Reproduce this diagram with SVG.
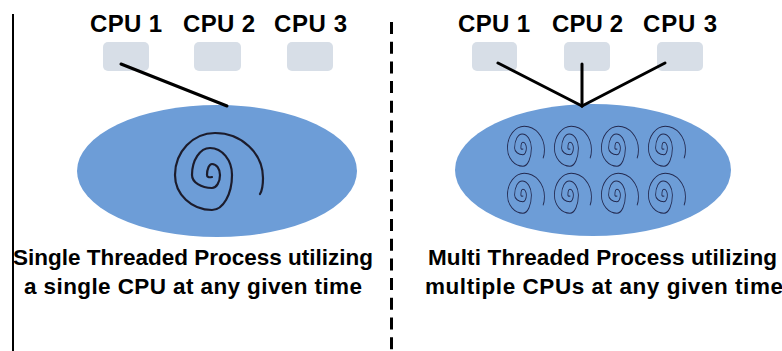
<svg xmlns="http://www.w3.org/2000/svg" xmlns:xlink="http://www.w3.org/1999/xlink" width="782" height="351" viewBox="0 0 782 351">
<style>
.lbl{font-family:"Liberation Sans",Arial,sans-serif;font-weight:bold;font-size:24px;fill:#000}
.cap{font-family:"Liberation Sans",Arial,sans-serif;font-weight:bold;font-size:22.5px;fill:#000}
.cpu{fill:#d7dee7}
.proc{fill:#6d9dd7}
.conn{stroke:#000;stroke-width:3;fill:none;stroke-linecap:round}
.sp{fill:none;stroke:#1c1c2c;stroke-width:2.2;stroke-linecap:round}
.ssp{fill:none;stroke:#23294f;stroke-width:2;stroke-linecap:round;vector-effect:non-scaling-stroke}
</style>
<defs>
<path id="spiral" d="M 212 177 Q 207 178 207 175 A 5 11 0 0 1 212 164 A 8 11 0 0 1 220 175 A 8 13 0 0 1 212 188 A 20 13 0 0 1 192 175 A 18 27 0 0 1 210 148 A 22 27 0 0 1 232 175 A 20 35 0 0 1 212 210 A 37 35 0 0 1 175 175 A 40 42 0 0 1 215 133 A 48 45 0 0 1 263 178 Q 263 189 260 194"/>
</defs>
<rect width="782" height="351" fill="#fff"/>
<g id="dividers">
<line x1="13" y1="14" x2="13" y2="351" stroke="#000" stroke-width="2"/>
<line x1="391.5" y1="22" x2="391.5" y2="351" stroke="#000" stroke-width="3" stroke-dasharray="12 7.7"/>
</g>
<g id="left-process">
<ellipse class="proc" cx="217" cy="171" rx="140" ry="66"/>
<use href="#spiral" class="sp"/>
</g>
<g id="right-process">
<ellipse class="proc" cx="593" cy="170" rx="138" ry="66"/>
<g class="ssp">
<use href="#spiral" transform="translate(523,148) scale(0.42,0.52) translate(-212,-175)"/>
<use href="#spiral" transform="translate(570,148) scale(0.42,0.52) translate(-212,-175)"/>
<use href="#spiral" transform="translate(617,148) scale(0.42,0.52) translate(-212,-175)"/>
<use href="#spiral" transform="translate(664,148) scale(0.42,0.52) translate(-212,-175)"/>
<use href="#spiral" transform="translate(523,195) scale(0.42,0.52) translate(-212,-175)"/>
<use href="#spiral" transform="translate(570,195) scale(0.42,0.52) translate(-212,-175)"/>
<use href="#spiral" transform="translate(617,195) scale(0.42,0.52) translate(-212,-175)"/>
<use href="#spiral" transform="translate(664,195) scale(0.42,0.52) translate(-212,-175)"/>
</g>
</g>
<g id="left-cpu1"><rect class="cpu" x="103" y="42" width="46" height="29" rx="5"/><text class="lbl" x="90" y="32" textLength="72">CPU 1</text></g>
<g id="left-cpu2"><rect class="cpu" x="194" y="42" width="47" height="29" rx="5"/><text class="lbl" x="183" y="32" textLength="72">CPU 2</text></g>
<g id="left-cpu3"><rect class="cpu" x="287" y="42" width="46" height="29" rx="5"/><text class="lbl" x="274" y="32" textLength="73">CPU 3</text></g>
<g id="right-cpu1"><rect class="cpu" x="472" y="42" width="45" height="29" rx="5"/><text class="lbl" x="458" y="32" textLength="72">CPU 1</text></g>
<g id="right-cpu2"><rect class="cpu" x="564" y="42" width="46" height="29" rx="5"/><text class="lbl" x="552" y="32" textLength="71">CPU 2</text></g>
<g id="right-cpu3"><rect class="cpu" x="657" y="42" width="46" height="29" rx="5"/><text class="lbl" x="643" y="32" textLength="74">CPU 3</text></g>
<g id="connectors">
<line class="conn" x1="121" y1="64" x2="227" y2="106"/>
<line class="conn" x1="498" y1="63" x2="582" y2="106"/>
<line class="conn" x1="582" y1="64" x2="582" y2="106"/>
<line class="conn" x1="665" y1="63" x2="582" y2="106"/>
</g>
<g id="left-caption">
<text class="cap" x="13" y="265" textLength="360">Single Threaded Process utilizing</text>
<text class="cap" x="24" y="294" textLength="338">a single CPU at any given time</text>
</g>
<g id="right-caption">
<text class="cap" x="428" y="265" textLength="349">Multi Threaded Process utilizing</text>
<text class="cap" x="425" y="294" textLength="358">multiple CPUs at any given time</text>
</g>
</svg>
